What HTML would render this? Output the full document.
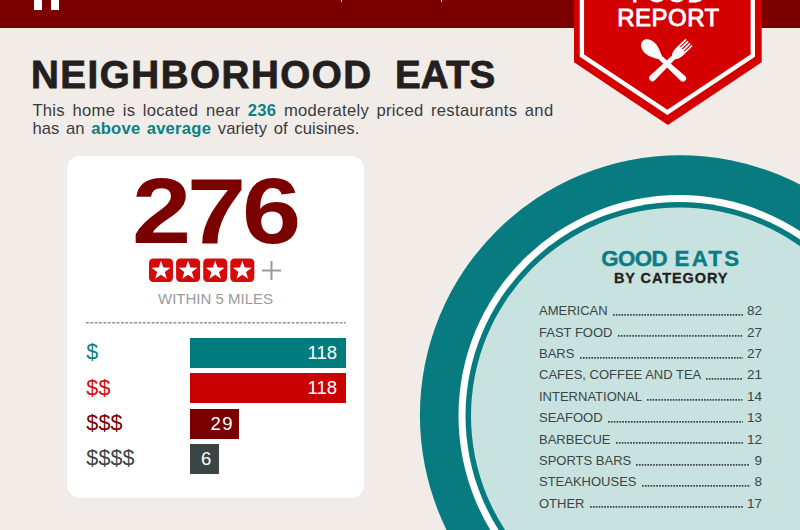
<!DOCTYPE html>
<html>
<head>
<meta charset="utf-8">
<title>Neighborhood Eats</title>
<style>
html,body{margin:0;padding:0;}
body{width:800px;height:530px;overflow:hidden;position:relative;background:#f1ece8;font-family:"Liberation Sans",sans-serif;}
.abs{position:absolute;}
#hdr{left:0;top:0;width:800px;height:28px;background:#7b0000;}
.lb{background:#fff;top:0;height:9.6px;}
#h1,#h1b{top:52.8px;-webkit-text-stroke:0.8px #231f20;font-size:38.6px;line-height:44px;font-weight:bold;color:#231f20;white-space:nowrap;letter-spacing:1.3px;}
.p{left:32.4px;font-size:16.6px;line-height:18px;color:#3a3a3c;white-space:nowrap;}
.p b{color:#0b8084;}
#card{left:67px;top:155.5px;width:297px;height:342.5px;background:#fff;border-radius:13px;}
#big{left:64.1px;width:297px;top:160.7px;text-align:center;font-size:92.5px;line-height:100px;font-weight:bold;color:#7b0000;letter-spacing:-3.6px;white-space:nowrap;transform:scaleX(1.15);transform-origin:148.3px 50%;text-indent:3.6px;}
#within{left:67px;width:297px;top:290px;text-align:center;font-size:15px;line-height:18px;color:#9b9b9b;white-space:nowrap;}
#dots{left:86.2px;top:321.7px;width:259.8px;height:1.6px;}
.dl{left:86.3px;font-size:21.5px;line-height:30px;height:30px;letter-spacing:0.15px;white-space:nowrap;margin-top:-0.6px;}
.bar{left:190px;height:30.3px;color:#fff;font-size:18.5px;line-height:30.3px;text-align:right;box-sizing:border-box;padding-right:8.5px;white-space:nowrap;}
.bt{left:574px;width:188.5px;text-align:center;font-size:24px;line-height:24px;color:#fff;white-space:nowrap;-webkit-text-stroke:0.9px #fff;}
.ge{line-height:24px;font-size:22.3px;-webkit-text-stroke:0.4px #0b7d82;font-weight:bold;color:#0b7d82;white-space:nowrap;letter-spacing:0.8px;}
#bc{-webkit-text-stroke:0.3px #231f20;font-size:14.5px;font-weight:bold;color:#231f20;white-space:nowrap;}
.row{left:539px;width:223px;height:16px;font-size:13px;line-height:16px;color:#3b4546;white-space:nowrap;display:flex;align-items:baseline;}
.row .ld{flex:1;height:1.8px;margin:0 4.3px 0 5.2px;position:relative;top:0.6px;}
.row .ld svg{display:block;position:absolute;left:0;top:0;width:100%;height:1.8px;overflow:visible;}
.row .n{font-size:13.5px;}
</style>
</head>
<body>
<div id="hdr" class="abs"></div>
<div class="abs lb" style="left:34px;width:8.2px;"></div>
<div class="abs lb" style="left:50.8px;width:8.6px;"></div>
<div class="abs" style="left:341px;top:0;width:1.2px;height:1.5px;background:#e8c9c9;"></div>
<div class="abs" style="left:441px;top:0;width:1.2px;height:1.5px;background:#e8c9c9;"></div>

<!-- circle -->
<svg class="abs" style="left:0;top:0;" width="800" height="530" viewBox="0 0 800 530">
  <circle cx="680" cy="415.3" r="260.1" fill="#087b80"/>
  <circle cx="679.2" cy="415.8" r="220.7" fill="#ffffff"/>
  <circle cx="679.2" cy="415.8" r="213.7" fill="#087b80"/>
  <circle cx="679.2" cy="415.8" r="208.2" fill="#c8e2df"/>
</svg>

<!-- badge -->
<svg class="abs" style="left:0;top:0;" width="800" height="530" viewBox="0 0 800 530">
  <polygon points="574,0 761.7,0 761.7,62.3 667.85,125 574,62.3" fill="#d40000"/>
  <polygon points="581.9,-5 752.8,-5 752.8,55.6 667.35,112.4 581.9,55.6" fill="none" stroke="#fff" stroke-width="4.3"/>
  <g fill="#fff">
    <g transform="translate(651.2,49.2) rotate(-47.4)">
      <path d="M0,-11.8 C4.6,-11.8 7.1,-6.5 7.1,-1.8 C7.1,3.8 3.8,9 2.2,12.5 L-2.2,12.5 C-3.8,9 -7.1,3.8 -7.1,-1.8 C-7.1,-6.5 -4.6,-11.8 0,-11.8 Z"/>
      <path d="M-2.2,9 L2.2,9 L3.3,43 A3.3,3.3 0 0 1 -3.3,43 Z"/>
    </g>
    <g transform="translate(689.1,42.4) rotate(45.85)">
      <path d="M-2.2,18 L2.2,18 L3.3,51 A3.3,3.3 0 0 1 -3.3,51 Z"/>
      <path d="M-5.1,0 L-5.1,12 Q-5.1,18.5 -2.2,22 L2.2,22 Q5.1,18.5 5.1,12 L5.1,0 L3.5,0 L3.5,9.5 L2.3,9.5 L2.3,0 L0.6,0 L0.6,9.5 L-0.6,9.5 L-0.6,0 L-2.3,0 L-2.3,9.5 L-3.5,9.5 L-3.5,0 Z"/>
    </g>
  </g>
</svg>
<div class="abs bt" style="top:-18.5px;letter-spacing:1.3px;text-indent:1.3px;">FOOD</div>
<div class="abs bt" style="top:5.6px;letter-spacing:0.45px;text-indent:0.45px;">REPORT</div>

<div id="h1" class="abs" style="left:31px;letter-spacing:1.5px;">NEIGHBORHOOD</div>
<div class="abs h1" id="h1b" style="left:395px;letter-spacing:0.1px;">EATS</div>
<div class="abs p" style="top:102px;letter-spacing:0.3px;word-spacing:2.6px;">This home is located near <b>236</b> moderately priced restaurants and</div>
<div class="abs p" style="top:119.5px;letter-spacing:0.05px;word-spacing:2px;">has an <b style="letter-spacing:0.25px;word-spacing:1.4px;">above average</b> variety of cuisines.</div>

<div id="card" class="abs"></div>
<div id="big" class="abs">276</div>
<svg class="abs" style="left:0;top:0;" width="800" height="530" viewBox="0 0 800 530">
  <defs>
    <g id="st">
      <rect x="0" y="0" width="24" height="23.6" rx="4.2" fill="#d60a0a"/>
      <polygon fill="#fff" points="12.00,2.40 14.35,9.06 21.42,9.24 15.80,13.54 17.82,20.31 12.00,16.30 6.18,20.31 8.20,13.54 2.58,9.24 9.65,9.06"/>
    </g>
  </defs>
  <use href="#st" x="149" y="258.4"/>
  <use href="#st" x="176.1" y="258.4"/>
  <use href="#st" x="203.2" y="258.4"/>
  <use href="#st" x="230.3" y="258.4"/>
  <rect x="262" y="269.5" width="19" height="2" fill="#9b9b9b"/>
  <rect x="270.5" y="261" width="2" height="19" fill="#9b9b9b"/>
</svg>
<div id="within" class="abs">WITHIN 5 MILES</div>
<svg id="dots" class="abs" style="overflow:visible;"><line x1="0" y1="0.8" x2="259.8" y2="0.8" stroke="#8e8e8e" stroke-width="1.6" stroke-dasharray="2.8 1.575"/></svg>

<div class="abs dl" style="top:338px;color:#0b7d82;">$</div>
<div class="abs dl" style="top:373.3px;color:#d60a0a;">$$</div>
<div class="abs dl" style="top:408.6px;color:#7b0000;">$$$</div>
<div class="abs dl" style="top:444px;color:#3b4546;">$$$$</div>

<div class="abs bar" style="top:337.8px;width:155.6px;background:#007c7e;">118</div>
<div class="abs bar" style="top:373.1px;width:155.6px;background:#c80000;">118</div>
<div class="abs bar" style="top:408.5px;width:49px;background:#7a0000;padding-right:5px;letter-spacing:1.4px;">29</div>
<div class="abs bar" style="top:444px;width:29.2px;background:#3b4546;padding-right:8px;">6</div>

<div class="abs ge" style="left:601.3px;top:246.6px;letter-spacing:-0.6px;">GOOD</div>
<div class="abs ge" style="left:674.6px;top:246.6px;letter-spacing:2.2px;">EATS</div>
<div id="bc" class="abs" style="left:614px;top:270.3px;line-height:16px;letter-spacing:0.9px;">BY CATEGORY</div>

<div class="abs row" style="top:303.1px;"><span>AMERICAN</span><span class="ld"><svg><line x1="0" y1="0.9" x2="100%" y2="0.9" stroke="#3f4a4b" stroke-width="1.8" stroke-dasharray="1.7 1.15"/></svg></span><span class="n">82</span></div>
<div class="abs row" style="top:324.5px;"><span>FAST FOOD</span><span class="ld"><svg><line x1="0" y1="0.9" x2="100%" y2="0.9" stroke="#3f4a4b" stroke-width="1.8" stroke-dasharray="1.7 1.15"/></svg></span><span class="n">27</span></div>
<div class="abs row" style="top:345.9px;"><span>BARS</span><span class="ld"><svg><line x1="0" y1="0.9" x2="100%" y2="0.9" stroke="#3f4a4b" stroke-width="1.8" stroke-dasharray="1.7 1.15"/></svg></span><span class="n">27</span></div>
<div class="abs row" style="top:367.3px;"><span>CAFES, COFFEE AND TEA</span><span class="ld"><svg><line x1="0" y1="0.9" x2="100%" y2="0.9" stroke="#3f4a4b" stroke-width="1.8" stroke-dasharray="1.7 1.15"/></svg></span><span class="n">21</span></div>
<div class="abs row" style="top:388.7px;"><span>INTERNATIONAL</span><span class="ld"><svg><line x1="0" y1="0.9" x2="100%" y2="0.9" stroke="#3f4a4b" stroke-width="1.8" stroke-dasharray="1.7 1.15"/></svg></span><span class="n">14</span></div>
<div class="abs row" style="top:410.1px;"><span>SEAFOOD</span><span class="ld"><svg><line x1="0" y1="0.9" x2="100%" y2="0.9" stroke="#3f4a4b" stroke-width="1.8" stroke-dasharray="1.7 1.15"/></svg></span><span class="n">13</span></div>
<div class="abs row" style="top:431.5px;"><span>BARBECUE</span><span class="ld"><svg><line x1="0" y1="0.9" x2="100%" y2="0.9" stroke="#3f4a4b" stroke-width="1.8" stroke-dasharray="1.7 1.15"/></svg></span><span class="n">12</span></div>
<div class="abs row" style="top:452.9px;"><span>SPORTS BARS</span><span class="ld"><svg><line x1="0" y1="0.9" x2="100%" y2="0.9" stroke="#3f4a4b" stroke-width="1.8" stroke-dasharray="1.7 1.15"/></svg></span><span class="n">9</span></div>
<div class="abs row" style="top:474.3px;"><span>STEAKHOUSES</span><span class="ld"><svg><line x1="0" y1="0.9" x2="100%" y2="0.9" stroke="#3f4a4b" stroke-width="1.8" stroke-dasharray="1.7 1.15"/></svg></span><span class="n">8</span></div>
<div class="abs row" style="top:495.7px;"><span>OTHER</span><span class="ld"><svg><line x1="0" y1="0.9" x2="100%" y2="0.9" stroke="#3f4a4b" stroke-width="1.8" stroke-dasharray="1.7 1.15"/></svg></span><span class="n">17</span></div>
</body>
</html>
